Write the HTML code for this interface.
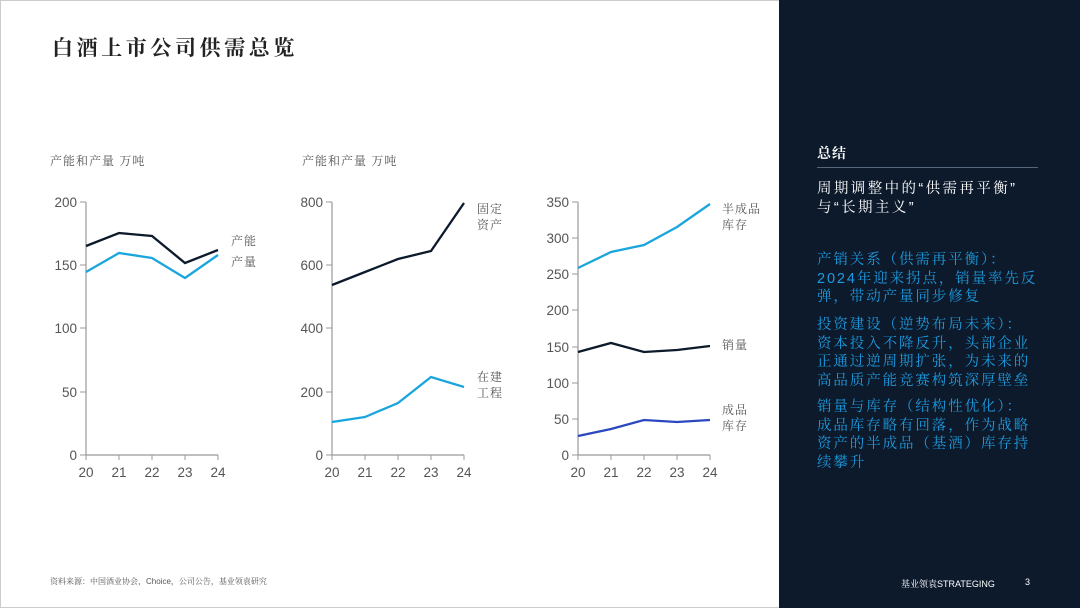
<!DOCTYPE html>
<html><head><meta charset="utf-8"><style>
body{margin:0;width:1080px;height:608px;overflow:hidden;background:#fff;font-family:"Liberation Sans","Noto Serif CJK SC",serif;position:relative}
.t{position:absolute;white-space:nowrap}
#panel{position:absolute;left:779px;top:0;width:301px;height:608px;background:#0c1a2c}
.b{color:#1e9be0;font-size:14.5px;line-height:18.5px;letter-spacing:1.9px}
</style></head><body>
<div style="position:absolute;left:0;top:0;width:778px;height:606px;border:1px solid #ccc;border-right:none"></div>
<div class="t" style="left:52px;top:32px;font-size:21px;color:#222;letter-spacing:3.6px;font-weight:bold">白酒上市公司供需总览</div>
<div class="t" style="left:50px;top:152px;font-size:12px;color:#555;letter-spacing:1px">产能和产量 万吨</div>
<div class="t" style="left:302px;top:152px;font-size:12px;color:#555;letter-spacing:1px">产能和产量 万吨</div>
<svg width="779" height="608" style="position:absolute;left:0;top:0" font-family="Liberation Sans, sans-serif" font-size="13.5" fill="#555">
<g stroke="#999" stroke-width="1.2" fill="none">
<path d="M86 202V455H218"/><path d="M332 202V455H464"/><path d="M578 202V455H710"/>
</g>
<g stroke="#999" stroke-width="1">
<path d="M80 202h6M80 265h6M80 328h6M80 392h6M80 455h6"/>
<path d="M326 202h6M326 265h6M326 328h6M326 392h6M326 455h6"/>
<path d="M572 202h6M572 238h6M572 274h6M572 310h6M572 347h6M572 383h6M572 419h6M572 455h6"/>
<path d="M86 455v5M119 455v5M152 455v5M185 455v5M218 455v5"/>
<path d="M332 455v5M365 455v5M398 455v5M431 455v5M464 455v5"/>
<path d="M578 455v5M611 455v5M644 455v5M677 455v5M710 455v5"/>
</g>
<g text-anchor="end">
<text x="77" y="207">200</text><text x="77" y="270">150</text><text x="77" y="333">100</text><text x="77" y="397">50</text><text x="77" y="460">0</text>
<text x="323" y="207">800</text><text x="323" y="270">600</text><text x="323" y="333">400</text><text x="323" y="397">200</text><text x="323" y="460">0</text>
<text x="569" y="207">350</text><text x="569" y="243">300</text><text x="569" y="279">250</text><text x="569" y="315">200</text><text x="569" y="352">150</text><text x="569" y="388">100</text><text x="569" y="424">50</text><text x="569" y="460">0</text>
</g>
<g text-anchor="middle">
<text x="86" y="477">20</text><text x="119" y="477">21</text><text x="152" y="477">22</text><text x="185" y="477">23</text><text x="218" y="477">24</text>
<text x="332" y="477">20</text><text x="365" y="477">21</text><text x="398" y="477">22</text><text x="431" y="477">23</text><text x="464" y="477">24</text>
<text x="578" y="477">20</text><text x="611" y="477">21</text><text x="644" y="477">22</text><text x="677" y="477">23</text><text x="710" y="477">24</text>
</g>
<g fill="none" stroke-width="2.3">
<polyline stroke="#0c1a2c" points="86,246 119,233 152,236 185,263 218,250"/>
<polyline stroke="#1aa6dd" points="86,272 119,253 152,258 185,278 218,255"/>
<polyline stroke="#0c1a2c" points="332,285 365,272 398,259 431,251 464,203"/>
<polyline stroke="#1aa6dd" points="332,422 365,417 398,403 431,377 464,387"/>
<polyline stroke="#1aa6dd" points="578,268 611,252 644,245 677,227 710,204"/>
<polyline stroke="#0c1a2c" points="578,352 611,343 644,352 677,350 710,346"/>
<polyline stroke="#2c48c0" points="578,436 611,429 644,420 677,422 710,420"/>
</g>
<g font-family="Noto Serif CJK SC, serif" font-size="12" fill="#555" letter-spacing="1">
<text x="231" y="245">产能</text><text x="231" y="266">产量</text>
<text x="477" y="213">固定</text><text x="477" y="229">资产</text>
<text x="477" y="381">在建</text><text x="477" y="397">工程</text>
<text x="722" y="213">半成品</text><text x="722" y="229">库存</text>
<text x="722" y="349">销量</text><text x="722" y="414">成品</text><text x="722" y="430">库存</text>
</g>
</svg>
<div class="t" style="left:50px;top:576px;font-size:8px;color:#555">资料来源：中国酒业协会，Choice，公司公告，基业领袁研究</div>
<div id="panel">
<div class="t" style="left:38px;top:143px;font-size:14px;font-weight:bold;color:#fff;letter-spacing:1px">总结</div>
<div style="position:absolute;left:38px;top:167px;width:221px;height:1px;background:#55677c"></div>
<div class="t" style="left:38px;top:180px;font-size:14.5px;line-height:19px;color:#fff;letter-spacing:2.4px">周期调整中的“供需再平衡”<br>与“长期主义”</div>
<div class="t b" style="left:38px;top:251px">产销关系（供需再平衡）：<br>2024年迎来拐点，销量率先反<br>弹，带动产量同步修复</div>
<div class="t b" style="left:38px;top:316px">投资建设（逆势布局未来）：<br>资本投入不降反升，头部企业<br>正通过逆周期扩张，为未来的<br>高品质产能竞赛构筑深厚壁垒</div>
<div class="t b" style="left:38px;top:398px">销量与库存（结构性优化）：<br>成品库存略有回落，作为战略<br>资产的半成品（基酒）库存持<br>续攀升</div>
<div class="t" style="left:122px;top:577px;font-size:9px;color:#fff">基业领袁STRATEGING</div>
<div class="t" style="left:246px;top:577px;font-size:9px;color:#fff">3</div>
</div>
</body></html>
